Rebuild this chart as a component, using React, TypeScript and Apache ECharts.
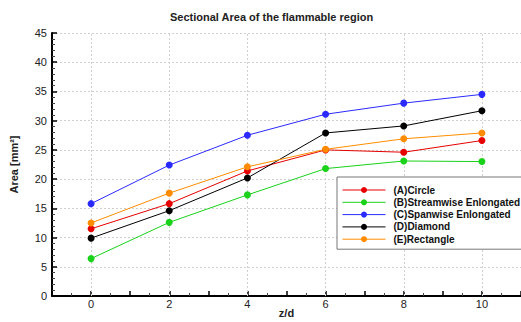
import React, { useEffect, useRef } from "react";
import * as echarts from "echarts";

const zd = [0, 2, 4, 6, 8, 10];
const seriesNames = [
  "(A)Circle",
  "(B)Streamwise Enlongated",
  "(C)Spanwise Enlongated",
  "(D)Diamond",
  "(E)Rectangle",
];
const circle = [11.5, 15.8, 21.4, 25.0, 24.6, 26.6];
const streamwise = [6.4, 12.6, 17.3, 21.8, 23.1, 23.0];
const spanwise = [15.8, 22.4, 27.5, 31.1, 33.0, 34.5];
const diamond = [9.9, 14.6, 20.2, 27.9, 29.1, 31.7];
const rectangle = [12.5, 17.6, 22.1, 25.1, 26.9, 27.9];
const seriesValues = [circle, streamwise, spanwise, diamond, rectangle];
const seriesColors = ["#e60000", "#19d219", "#2a2aff", "#000000", "#ff8c00"];
const verticalGrid = [0, 2, 4, 6, 8, 10];

const FONT = "Liberation Sans, Arial, sans-serif";

export default function App() {
  const ref = useRef<HTMLDivElement>(null);
  useEffect(() => {
    if (!ref.current) return;
    const chart = echarts.init(ref.current, null, { renderer: "svg" });
    const series = seriesNames.map((name, i) => ({
      name,
      type: "line",
      data: zd.map((x, j) => [x, seriesValues[i][j]]),
      symbol: "circle",
      symbolSize: 7,
      lineStyle: { width: 1, color: seriesColors[i] },
      itemStyle: { color: seriesColors[i] },
      color: seriesColors[i],
      z: 3,
      ...(i === 0
        ? {
            markLine: {
              silent: true,
              symbol: "none",
              label: { show: false },
              lineStyle: { color: "#d0d0d0", type: [2, 2], width: 1 },
              data: verticalGrid.map((x) => ({ xAxis: x })),
              z: 1,
            },
          }
        : {}),
    }));
    chart.setOption({
      animation: false,
      backgroundColor: "#ffffff",
      textStyle: { fontFamily: FONT },
      title: {
        text: "Sectional Area of the flammable region",
        left: 165,
        top: 6,
        textStyle: { fontSize: 11, fontWeight: "bold", color: "#222", fontFamily: FONT },
      },
      grid: { left: 52, right: 0, top: 33, bottom: 26, outerBoundsMode: "none", containLabel: false },
      legend: {
        orient: "vertical",
        left: 337,
        top: 177,
        padding: [7, 6, 4, 5],
        backgroundColor: "#ffffff",
        borderColor: "#777",
        borderWidth: 1,
        itemWidth: 43,
        itemHeight: 7.5,
        itemGap: 0.3,
        lineStyle: { width: 1 },
        textStyle: {
          fontSize: 10,
          fontWeight: "bold",
          color: "#111",
          fontFamily: FONT,
          lineHeight: 12,
          padding: [0, 0, 0, 3],
        },
        data: seriesNames,
      },
      xAxis: {
        type: "value",
        min: -1,
        max: 11,
        interval: 1,
        name: "z/d",
        nameLocation: "middle",
        nameGap: 11,
        nameMoveOverlap: false,
        nameTextStyle: { fontSize: 11, fontWeight: "bold", color: "#222", fontFamily: FONT },
        axisLine: { onZero: false, lineStyle: { color: "#000", width: 2 } },
        axisTick: { inside: true, length: 5, lineStyle: { color: "#000", width: 1.5 } },
        minorTick: { show: true, splitNumber: 2, length: 3, lineStyle: { color: "#444" } },
        axisLabel: {
          fontSize: 11,
          color: "#222",
          margin: 2,
          formatter: (v: number) => (v >= 0 && v <= 10 && v % 2 === 0 ? String(v) : ""),
        },
        splitLine: { show: false },
      },
      yAxis: {
        type: "value",
        min: 0,
        max: 45,
        interval: 5,
        name: "Area [mm²]",
        nameLocation: "middle",
        nameGap: 33,
        nameMoveOverlap: false,
        nameRotate: 90,
        nameTextStyle: { fontSize: 11, fontWeight: "bold", color: "#222", fontFamily: FONT },
        axisLine: { show: true, onZero: false, lineStyle: { color: "#000", width: 2 } },
        axisTick: { show: true, inside: true, length: 5, lineStyle: { color: "#000", width: 1.5 } },
        minorTick: { show: true, splitNumber: 5, length: 3, lineStyle: { color: "#444" } },
        axisLabel: { fontSize: 11, color: "#222", margin: 5 },
        splitLine: { show: true, lineStyle: { color: "#d0d0d0", type: [2, 2], width: 1 } },
      },
      series,
    });
    return () => chart.dispose();
  }, []);
  return (
    <div
      ref={ref}
      style={{ position: "absolute", left: 0, top: 0, width: 521, height: 322 }}
    />
  );
}
